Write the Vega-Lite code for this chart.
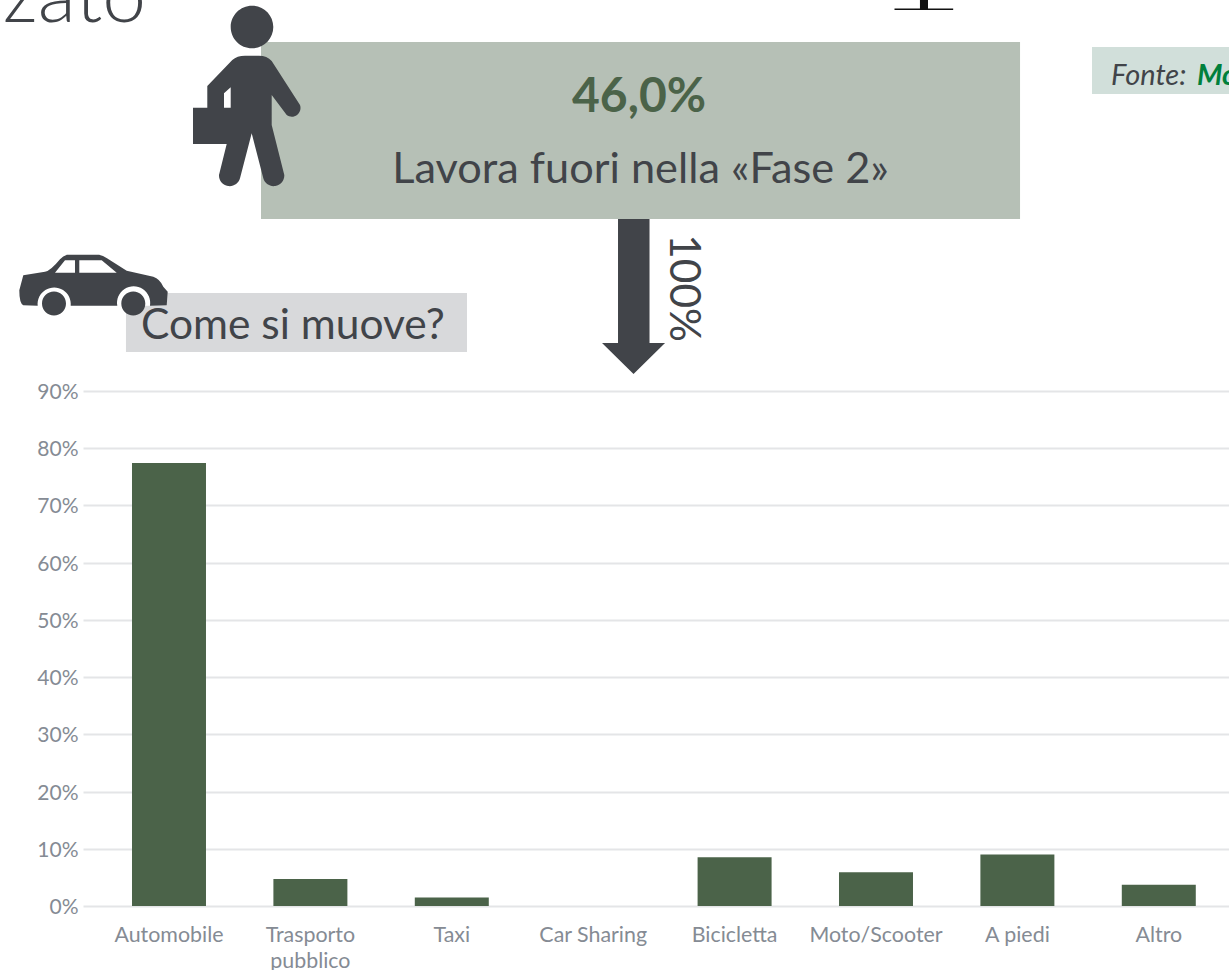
{
"$schema":"https://vega.github.io/schema/vega-lite/v6.json",
"width":1146,"height":906,
"autosize":"none",
"padding":{"left":83,"top":0,"right":0,"bottom":64},
"background":"white",
"config":{"view":{"stroke":null},"font":"Lato"},
"datasets":{
"modi":[
{"modo":"Automobile","quota":77.4},
{"modo":"Trasporto pubblico","quota":4.7},
{"modo":"Taxi","quota":1.5},
{"modo":"Car Sharing","quota":0},
{"modo":"Bicicletta","quota":8.5},
{"modo":"Moto/Scooter","quota":5.9},
{"modo":"A piedi","quota":9.0},
{"modo":"Altro","quota":3.7}],
"box":[
{"id":"fase2","x0":1.259,"x1":6.628,"y0":120.06,"y1":151.0},
{"id":"muove","x0":0.304,"x1":2.716,"y0":96.82,"y1":107.13},
{"id":"fonte","x0":7.137,"x1":8.2,"y0":141.9,"y1":150.1},
{"id":"glifo","x0":5.74,"x1":6.155,"y0":156.6,"y1":156.85},
{"id":"glifo2","x0":5.92,"x1":5.977,"y0":156.7,"y1":160}],
"testi":[
{"t":"zato","x":-0.566,"y":154.5},
{"t":"Lavora fuori nella «Fase 2»","x":3.944,"y":126.3},
{"t":"Come si muove?","x":0.41,"y":99.05}],
"ancore":[{"x":1.16,"y":140.85,"k":"persona"},{"x":0.0707,"y":108.5,"k":"auto"},{"x":3.894,"y":106.6,"k":"freccia"}]
},
"layer":[
{"data":{"name":"modi"},
 "mark":{"type":"bar","color":"#4B6349"},
 "encoding":{
  "x":{"field":"modo","type":"nominal","sort":null,
   "scale":{"paddingInner":0.4767,"paddingOuter":0.2907,"align":0.596},
   "axis":{"title":null,"domain":false,"ticks":false,"labelAngle":0,"labelPadding":18,"labelFontSize":21.4,"labelColor":"#858B94","labelFont":"Lato","labelLineHeight":26,
    "labelExpr":"datum.label=='Trasporto pubblico'?['Trasporto','pubblico']:datum.label"}},
  "y":{"field":"quota","type":"quantitative","scale":{"domain":[0,158.33],"nice":false},
   "axis":{"title":null,"values":[0,10,20,30,40,50,60,70,80,90],"labelExpr":"datum.value+'%'","domain":false,"ticks":false,"labelPadding":5,"labelOffset":1.5,"labelFontSize":21,"labelColor":"#858B94","labelFont":"Lato","grid":true,"gridColor":"#E4E5E7","gridWidth":2}}
 }},
{"layer":[
 {"data":{"name":"box"},"transform":[{"filter":"datum.id=='fase2'||datum.id=='muove'||datum.id=='fonte'"}],
  "mark":{"type":"rect"},
  "encoding":{
   "x":{"field":"x0","type":"quantitative","scale":{"domain":[0,8.106],"nice":false,"zero":false},"axis":null},
   "x2":{"field":"x1"},
   "y":{"field":"y0","type":"quantitative","scale":{"domain":[0,158.33],"nice":false},"axis":null},
   "y2":{"field":"y1"},
   "color":{"field":"id","type":"nominal","legend":null,"scale":{"domain":["fase2","muove","fonte"],"range":["#B6C0B6","#D8D9DB","#D1DFDA"]}}}},
 {"data":{"name":"box"},"transform":[{"filter":"datum.id=='glifo'||datum.id=='glifo2'"}],
  "mark":{"type":"rect","color":"#111111"},
  "encoding":{"x":{"field":"x0","type":"quantitative"},"x2":{"field":"x1"},"y":{"field":"y0","type":"quantitative"},"y2":{"field":"y1"}}},
 {"data":{"name":"ancore"},"transform":[{"filter":"datum.k=='persona'"}],
  "mark":{"type":"point","filled":true,"opacity":1,"color":"#414449","size":4,
   "shape":"M-16.3,-73A21.3,21.3 0 1 1 26.3,-73A21.3,21.3 0 1 1 -16.3,-73ZM-14.7,-40Q-10,-44.3 -2,-44.3L12,-44.3Q20,-44.3 24.7,-39L53,5A8.7,8.7 0 0 1 39.7,15L24.7,-5L24.7,25L37.3,75A10.7,10.7 0 0 1 16.3,78.3L4.7,33.3L-7,78.3A10.7,10.7 0 0 1 -28,75L-20.3,44L-54,44L-54,7.7L-39.7,7.7L-39.7,-14ZM-23,7.7L-16.3,7.7L-16.3,-12.7L-23,-6.7Z"},
  "encoding":{"x":{"field":"x","type":"quantitative"},"y":{"field":"y","type":"quantitative"}}},
 {"data":{"name":"ancore"},"transform":[{"filter":"datum.k=='auto'"}],
  "mark":{"type":"point","filled":true,"opacity":1,"color":"#FFFFFF","size":4,
   "shape":"M57,20.7A16.6,16.6 0 1 0 24.3,20.7ZM-22.3,20.7A16.6,16.6 0 1 0 -55.3,20.7Z"},
  "encoding":{"x":{"field":"x","type":"quantitative"},"y":{"field":"y","type":"quantitative"}}},
 {"data":{"name":"ancore"},"transform":[{"filter":"datum.k=='auto'"}],
  "mark":{"type":"point","filled":true,"opacity":1,"color":"#414449","size":4,
   "shape":"M-73.7,5L-69.7,-10L-48,-13.3Q-42,-15 -33,-26Q-30,-29.5 -26,-30.5L6,-30.5Q10,-30 14,-27L33.7,-14.3L60.3,-8.3Q67,-6 70.3,1.7L74.7,6.7L73.7,20L57,20.7A16.6,16.6 0 1 0 24.3,20.7L-22.3,20.7A16.6,16.6 0 1 0 -55.3,20.7L-69.7,20Q-73.7,18 -73.7,5ZM-38,-12.3L-18,-12.3L-18,-25L-28,-25ZM-13.7,-12.3L23.7,-12.3L8.7,-25L-13.7,-25ZM28.3,18.3A12,12 0 1 1 52.3,18.3A12,12 0 1 1 28.3,18.3ZM-51,18.3A12,12 0 1 1 -27,18.3A12,12 0 1 1 -51,18.3Z"},
  "encoding":{"x":{"field":"x","type":"quantitative"},"y":{"field":"y","type":"quantitative"}}},
 {"data":{"name":"ancore"},"transform":[{"filter":"datum.k=='freccia'"}],
  "mark":{"type":"point","filled":true,"opacity":1,"color":"#414449","size":4,
   "shape":"M-15.5,-77L16,-77L16,47L31.5,47L0,78L-31.5,47L-15.5,47Z"},
  "encoding":{"x":{"field":"x","type":"quantitative"},"y":{"field":"y","type":"quantitative"}}},
 {"data":{"name":"testi"},"transform":[{"filter":"datum.t=='zato'"}],
  "mark":{"type":"text","align":"left","baseline":"alphabetic","font":"Lato","fontWeight":300,"fontSize":78.6,"color":"#414449"},
  "encoding":{"x":{"field":"x","type":"quantitative"},"y":{"field":"y","type":"quantitative"},"text":{"field":"t"}}},
 {"data":{"values":[{"t":"46,0%","x":3.933,"y":138.7}]},
  "mark":{"type":"text","align":"center","baseline":"alphabetic","font":"Lato","fontWeight":"bold","fontSize":48,"color":"#4B6349"},
  "encoding":{"x":{"field":"x","type":"quantitative"},"y":{"field":"y","type":"quantitative"},"text":{"field":"t"}}},
 {"data":{"name":"testi"},"transform":[{"filter":"datum.t=='Lavora fuori nella «Fase 2»'"}],
  "mark":{"type":"text","align":"center","baseline":"alphabetic","font":"Lato","fontSize":43.3,"color":"#414449"},
  "encoding":{"x":{"field":"x","type":"quantitative"},"y":{"field":"y","type":"quantitative"},"text":{"field":"t"}}},
 {"data":{"name":"testi"},"transform":[{"filter":"datum.t=='Come si muove?'"}],
  "mark":{"type":"text","align":"left","baseline":"alphabetic","font":"Lato","fontSize":42.5,"color":"#414449"},
  "encoding":{"x":{"field":"x","type":"quantitative"},"y":{"field":"y","type":"quantitative"},"text":{"field":"t"}}},
 {"data":{"values":[{"t":"100%","x":4.15,"y":117.4}]},
  "mark":{"type":"text","align":"left","baseline":"alphabetic","angle":90,"font":"Lato","fontSize":42.4,"color":"#414449"},
  "encoding":{"x":{"field":"x","type":"quantitative"},"y":{"field":"y","type":"quantitative"},"text":{"field":"t"}}},
 {"data":{"values":[{"t":"Fonte:","x":7.272,"y":143.45}]},
  "mark":{"type":"text","align":"left","baseline":"alphabetic","font":"Lato","fontStyle":"italic","fontSize":29,"color":"#414449"},
  "encoding":{"x":{"field":"x","type":"quantitative"},"y":{"field":"y","type":"quantitative"},"text":{"field":"t"}}},
 {"data":{"values":[{"t":"Mo","x":7.88,"y":143.45}]},
  "mark":{"type":"text","align":"left","baseline":"alphabetic","font":"Lato","fontStyle":"italic","fontWeight":"bold","fontSize":29,"color":"#00803C"},
  "encoding":{"x":{"field":"x","type":"quantitative"},"y":{"field":"y","type":"quantitative"},"text":{"field":"t"}}}
]}
],
"resolve":{"scale":{"x":"independent"},"axis":{"y":"independent"}}
}
